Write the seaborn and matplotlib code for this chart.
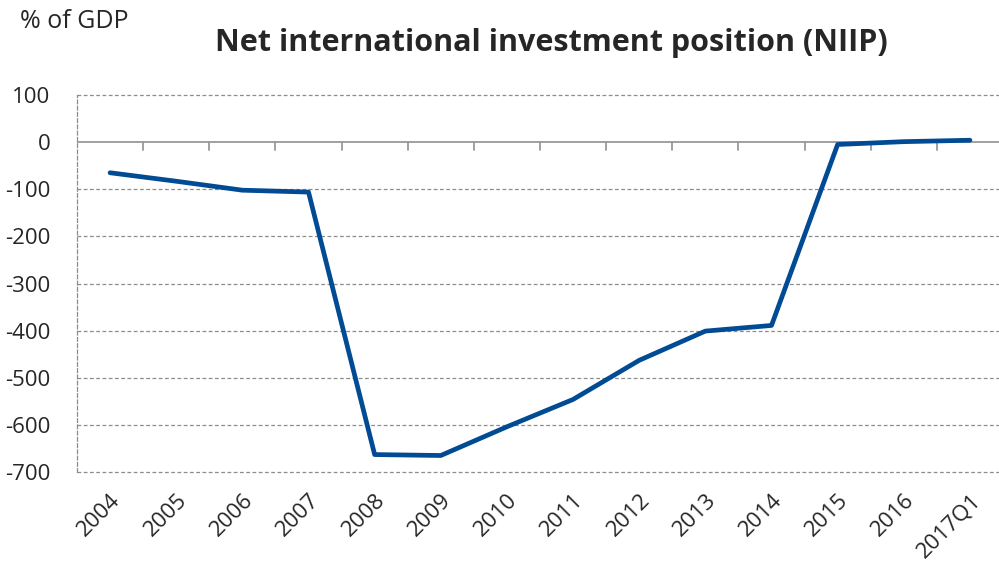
import matplotlib
matplotlib.use("Agg")
import matplotlib.pyplot as plt
import seaborn as sns
import pandas as pd

periods = ["2004", "2005", "2006", "2007", "2008", "2009", "2010",
           "2011", "2012", "2013", "2014", "2015", "2016", "2017Q1"]
niip = [-65, -83, -102, -106, -663, -665, -604, -546, -463, -401, -389, -5, 1, 4]
yticks = [100, 0, -100, -200, -300, -400, -500, -600, -700]

sns.set_style("white")
plt.rcParams["font.family"] = ["Open Sans", "DejaVu Sans"]

df = pd.DataFrame({"pos": range(len(periods)), "niip": niip})

fig = plt.figure(figsize=(9.99, 5.66), dpi=100)
ax = fig.add_axes([77 / 999, 1 - 472 / 566, 926 / 999, 377 / 566])

grid_col = "#8c8c8c"
for v in yticks:
    if v != 0:
        ax.axhline(v, color=grid_col, lw=0.9, ls=(0, (3, 2)), zorder=0, clip_on=False)
ax.axhline(0, color="#999999", lw=1.3, zorder=1)
# category separator ticks on the zero line
for i in range(1, len(periods)):
    ax.plot([i - 0.5, i - 0.5], [0, -17], color="#999999", lw=1.3, zorder=1)

sns.lineplot(data=df, x="pos", y="niip", ax=ax, color="#004b93", lw=3.4,
             zorder=3, solid_capstyle="round")

ax.set_xlim(-0.5, len(periods) - 0.5)
ax.set_ylim(-700, 100)
ax.set_yticks(yticks)
ax.set_yticklabels([str(v) for v in yticks], fontsize=16)
ax.set_xticks(range(len(periods)))
ax.set_xticklabels(periods, rotation=45, ha="right", rotation_mode="anchor", fontsize=16)
ax.tick_params(axis="x", length=0, pad=13)
ax.tick_params(axis="y", length=7, color=grid_col, width=0.9, pad=12)
ax.set_xlabel("")
ax.set_ylabel("")

for s in ["top", "right", "bottom"]:
    ax.spines[s].set_visible(False)
ax.spines["left"].set_color(grid_col)
ax.spines["left"].set_linewidth(0.9)
ax.spines["left"].set_linestyle((0, (3, 2)))

fig.text(20 / 999, 1 - 22 / 566, "% of GDP", fontsize=18, va="center", ha="left")
fig.text(551 / 999, 1 - 43 / 566, "Net international investment position (NIIP)",
         fontsize=22, fontweight="bold", va="center", ha="center")

fig.savefig("out.png", dpi=100)
